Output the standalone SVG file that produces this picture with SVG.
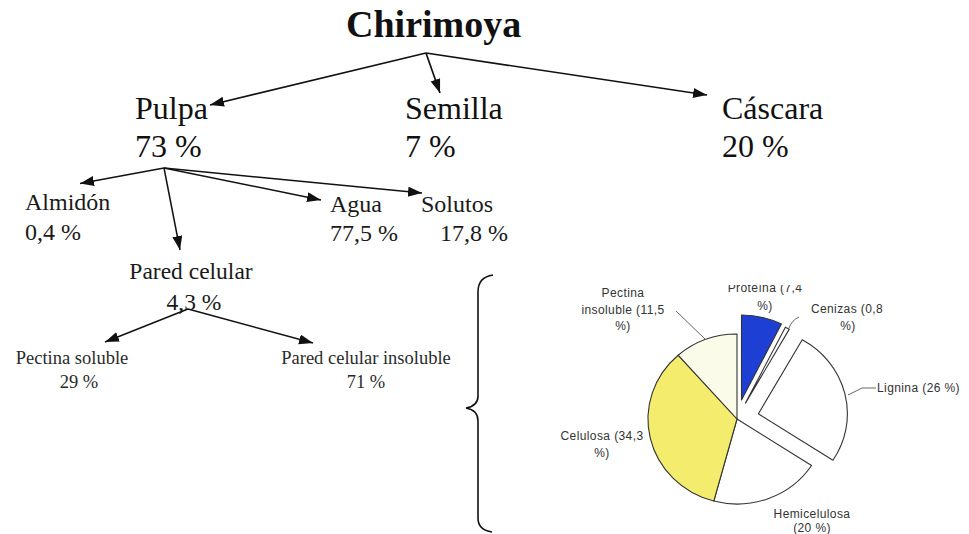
<svg xmlns="http://www.w3.org/2000/svg" width="969" height="534" viewBox="0 0 969 534">
  <defs>
    <marker id="arr" markerUnits="userSpaceOnUse" markerWidth="16" markerHeight="12" refX="14" refY="5" orient="auto">
      <path d="M0,0 L14,5 L0,10 Z" fill="#111"/>
    </marker>
    <clipPath id="clipTop"><rect x="0" y="285" width="969" height="249"/></clipPath>
  </defs>
  <style>
    .t { font-family: "Liberation Serif", "Times New Roman", serif; fill: #111; }
    .title { font-size: 38px; font-weight: bold; }
    .l1 { font-size: 32px; }
    .l2 { font-size: 24px; fill: #1a1a1a; }
    .l3 { font-size: 23.5px; fill: #1a1a1a; }
    .l4 { font-size: 18.5px; fill: #2a2a2a; }
    .c { text-anchor: middle; }
    .conn line { stroke: #111; stroke-width: 1.7; marker-end: url(#arr); }
    .pl { font-family: "Liberation Sans", Arial, sans-serif; font-size: 12px; fill: #333; letter-spacing: 0.4px; }
    .slice { stroke: #333; stroke-width: 1.1; stroke-linejoin: round; }
    .leader { stroke: #666; stroke-width: 1; fill: none; }
  </style>
  <rect width="969" height="534" fill="#ffffff"/>

  <g id="chirimoya"><text class="t title" x="346" y="37">Chirimoya</text></g>
  <g id="pulpa"><text class="t l1" x="135" y="118.5">Pulpa</text><text class="t l1" x="135" y="157">73 %</text></g>
  <g id="semilla"><text class="t l1" x="405" y="118.5">Semilla</text><text class="t l1" x="405" y="157">7 %</text></g>
  <g id="cascara"><text class="t l1" x="722" y="118.5">Cáscara</text><text class="t l1" x="722" y="157">20 %</text></g>

  <g id="almidon"><text class="t l2" x="25" y="210">Almidón</text><text class="t l2" x="25" y="240">0,4 %</text></g>
  <g id="agua"><text class="t l2" x="330" y="211.5">Agua</text><text class="t l2" x="330" y="241">77,5 %</text></g>
  <g id="solutos"><text class="t l2" x="421" y="211.5">Solutos</text><text class="t l2" x="440" y="241">17,8 %</text></g>

  <g id="pared-celular"><text class="t l3 c" x="191" y="279">Pared celular</text><text class="t l3 c" x="194" y="310">4,3 %</text></g>
  <g id="pectina-soluble"><text class="t l4 c" x="72" y="364">Pectina soluble</text><text class="t l4 c" x="79" y="388">29 %</text></g>
  <g id="pared-insoluble"><text class="t l4 c" x="366" y="364">Pared celular insoluble</text><text class="t l4 c" x="366" y="388">71 %</text></g>

  <g id="connectors" class="conn">
    <line x1="426" y1="53" x2="210" y2="105"/>
    <line x1="426" y1="53" x2="440" y2="93"/>
    <line x1="426" y1="53" x2="707" y2="95"/>
    <line x1="164" y1="168" x2="80" y2="183.5" style="stroke-width:1.5"/>
    <line x1="164" y1="168" x2="180" y2="250" style="stroke-width:1.5"/>
    <line x1="164" y1="168" x2="321" y2="200" style="stroke-width:1.5"/>
    <line x1="164" y1="168" x2="422" y2="193" style="stroke-width:1.5"/>
    <line x1="188" y1="309" x2="105" y2="342" style="stroke-width:1.5"/>
    <line x1="188" y1="309" x2="313" y2="343" style="stroke-width:1.5"/>
  </g>

  <g id="brace">
    <path d="M493,275 Q478,277 478,292 L478,396 Q478,406 466,408 Q478,410 478,421 L478,518 Q478,530 492,532" fill="none" stroke="#111" stroke-width="1.6"/>
  </g>

  <g id="pie">
    <path id="s-proteina" class="slice" d="M741.5,400 L741.5,315 A89,85 0 0 1 781.41,324.03 Z" fill="#1e3fd3"/>
    <path id="s-cenizas" class="slice" d="M745.47,403.12 L785.38,327.15 A89,85 0 0 1 789.32,329.15 Z" fill="#ffffff"/>
    <path id="s-lignina" class="slice" d="M758.38,413.8 L802.23,339.83 A89,85 0 0 1 832.92,460.25 Z" fill="#ffffff"/>
    <path id="s-hemicelulosa" class="slice" d="M737,419 L811.54,465.45 A89,85 0 0 1 713.79,501.06 Z" fill="#ffffff"/>
    <path id="s-celulosa" class="slice" d="M737,419 L713.79,501.06 A89,85 0 0 1 678.14,355.24 Z" fill="#f3ec6c"/>
    <path id="s-pectina" class="slice" d="M737,419 L678.14,355.24 A89,85 0 0 1 737,334 Z" fill="#fbfbea"/>
    <path class="leader" d="M676,311 L705,339"/>
    <path class="leader" d="M789,328 Q792,320 799,317"/>
    <path class="leader" d="M848,395 L862,388 L876,388"/>
    <text class="pl c" x="623" y="297">Pectina</text>
    <text class="pl c" x="623" y="314">insoluble (11,5</text>
    <text class="pl c" x="623" y="330">%)</text>
    <text class="pl c" x="765" y="292" clip-path="url(#clipTop)">Proteína (7,4</text>
    <text class="pl c" x="765" y="310">%)</text>
    <text class="pl c" x="847" y="313">Cenizas (0,8</text>
    <text class="pl c" x="848" y="330">%)</text>
    <text class="pl" x="877" y="392">Lignina (26 %)</text>
    <text class="pl c" x="602" y="440">Celulosa (34,3</text>
    <text class="pl c" x="602" y="457">%)</text>
    <text class="pl c" x="812" y="518">Hemicelulosa</text>
    <text class="pl c" x="812" y="532">(20 %)</text>
  </g>
</svg>
